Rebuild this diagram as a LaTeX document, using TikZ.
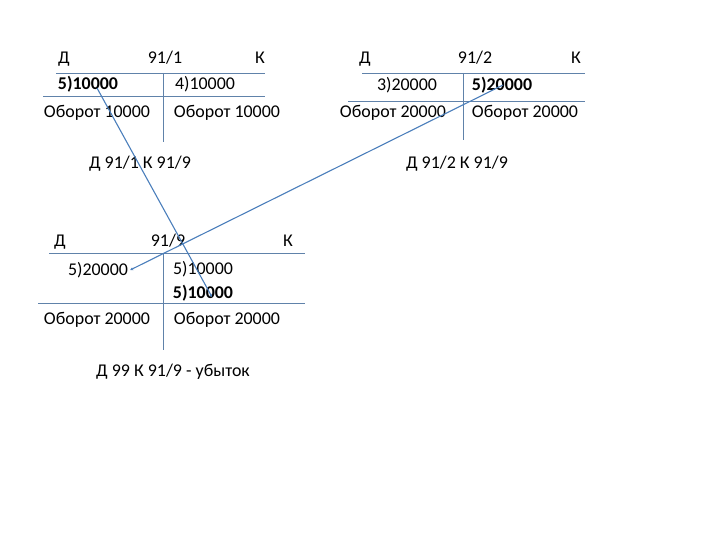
\documentclass[tikz,border=0pt]{standalone}
\usepackage{fontspec}
\setmainfont{Carlito}
\usetikzlibrary{arrows.meta,positioning}
\definecolor{acblue}{RGB}{74,126,187}
\definecolor{tline}{RGB}{96,130,170}

\begin{document}
\begin{tikzpicture}[x=1bp,y=-1bp,
        txt/.style={anchor=base,inner sep=0pt,font=\fontsize{18}{21}\selectfont},
        btxt/.style={txt,font=\fontsize{18}{21}\selectfont\bfseries},
        tacc/.style={tline,line width=0.8pt},
        link/.style={-{Stealth[length=3pt,width=3pt]},acblue,line width=1.1pt}]
            \useasboundingbox (0,0) rectangle (720,540);

            % account 91/1
            \node   [txt]   (d1)    at (64,64)      {Д};
            \node   [txt]   (h1)    at (165,64)     {91/1};
            \node   [txt]   (k1)    at (260,64)     {К};
            \node   [btxt]  (a1)    at (88,90)      {5)10000};
            \node   [txt]   (b1)    at (205,90)     {4)10000};
            \node   [txt]   (o1)    at (97,118)     {Оборот 10000};
            \node   [txt]   (p1)    at (227,118)    {Оборот 10000};
            \draw   [tacc]  (56,73) -- (265,73);
            \draw   [tacc]  (43,96) -- (265,96);
            \draw   [tacc]  (163,73) -- (163,142);

            % account 91/2
            \node   [txt]   (d2)    at (365,64)     {Д};
            \node   [txt]   (h2)    at (475,64)     {91/2};
            \node   [txt]   (k2)    at (576,64)     {К};
            \node   [txt]   (a2)    at (407,91)     {3)20000};
            \node   [btxt]  (b2)    at (502,91)     {5)20000};
            \node   [txt]   (o2)    at (393,118)    {Оборот 20000};
            \node   [txt]   (p2)    at (525,118)    {Оборот 20000};
            \draw   [tacc]  (362,73) -- (585,73);
            \draw   [tacc]  (348,101) -- (585,101);
            \draw   [tacc]  (463,73) -- (463,140);

            \node   [txt]   (e1)    at (140,169)    {Д 91/1 К 91/9};
            \node   [txt]   (e2)    at (457,169)    {Д 91/2 К 91/9};

            % account 91/9
            \node   [txt]   (d9)    at (60,247)     {Д};
            \node   [txt]   (h9)    at (168,247)    {91/9};
            \node   [txt]   (k9)    at (288,247)    {К};
            \node   [txt]   (a9)    at (98,276)     {5)20000};
            \node   [txt]   (b9)    at (203,275)    {5)10000};
            \node   [btxt]  (c9)    at (203,298)    {5)10000};
            \node   [txt]   (o9)    at (97,324)     {Оборот 20000};
            \node   [txt]   (p9)    at (227,324)    {Оборот 20000};
            \draw   [tacc]  (49,253) -- (305,253);
            \draw   [tacc]  (38,303) -- (305,303);
            \draw   [tacc]  (163,253) -- (163,350);

            \node   [txt]   (e9)    at (173,376)    {Д 99 К 91/9 - убыток};

            \draw   [link]  ([shift={(9,-2)}]a1.base) -- ([shift={(9,-1)}]c9.base);
            \draw   [link]  ([shift={(1,-6)}]b2.base) -- ([shift={(2,-6)}]a9.base east);
        \end{tikzpicture}
\end{document}
